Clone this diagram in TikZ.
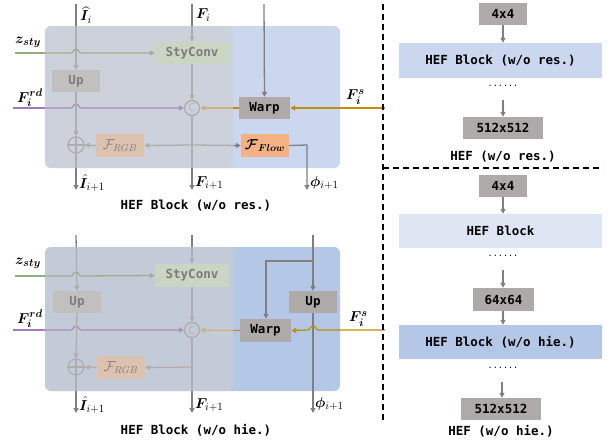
\documentclass[tikz,border=0pt]{standalone}
\usepackage{amsmath,bm}
\usepackage{fontspec}
\setmonofont{DejaVu Sans Mono}
\usetikzlibrary{arrows.meta}
\definecolor{lgray}{HTML}{7F7F7F}
\definecolor{bgray}{HTML}{AEAAAA}
\definecolor{blueA}{HTML}{CAD7EF}
\definecolor{blueB}{HTML}{B4C7E7}
\definecolor{blueC}{HTML}{DEE6F4}
\definecolor{ovgray}{HTML}{D0CECE}
\definecolor{sgreen}{HTML}{C5E0B4}
\definecolor{orng}{HTML}{F4B183}
\definecolor{zgreen}{HTML}{548235}
\definecolor{fpurp}{HTML}{7030A0}
\definecolor{gold}{HTML}{BF9000}
\newcommand\monof{\fontsize{12.5}{14}\selectfont\ttfamily\bfseries}
\newcommand\labf{\fontsize{15}{17}\selectfont}
\newcommand\boxmath{\fontsize{14}{16}\selectfont}
\begin{document}
\begin{tikzpicture}[x=1pt,y=-1pt,
  ln/.style={draw=lgray,line width=1.3pt},
  arr/.style={ln,-{Triangle[length=5pt,width=5pt]}},
  blk/.style={rectangle,inner sep=0pt,font=\monof},
  gbox/.style={blk,fill=bgray,minimum width=48pt,minimum height=22pt},
  cc/.style={circle,draw=lgray,line width=1.3pt,minimum size=15pt,inner sep=0pt,text=lgray,font=\sffamily\fontsize{11.5}{12}\selectfont},
  pc/.style={circle,draw=lgray,line width=1.3pt,minimum size=16pt,inner sep=0pt},
  lab/.style={anchor=west,inner sep=0pt,font=\labf},
  captxt/.style={font=\monof,inner sep=0pt},
  dotstxt/.style={font=\ttfamily\fontsize{8.5}{9}\selectfont,inner sep=0pt},
  dashln/.style={draw=black,line width=1.2pt,dash pattern=on 6pt off 4pt}]
\useasboundingbox (0,0) rectangle (609,440);
% ================= top block =================
\fill[blueA,rounded corners=6pt] (45,26) rectangle (340,168);
\node[blk,fill=sgreen,minimum width=74pt,minimum height=22pt] (sc1) at (192,53) {StyConv};
\node[gbox] (up1) at (76,81) {Up};
\node[cc] (c1) at (192,108) {C};
\node[gbox,minimum width=51pt] (wp1) at (264.5,108) {Warp};
\node[pc] (p1) at (76,145) {};
\draw[ln] (p1.north)--(p1.south) (p1.west)--(p1.east);
\node[blk,fill=orng,minimum width=48pt,minimum height=23pt,font=\boxmath] (rgb1) at (120,145.5) {$\mathcal{F}_{RGB}$};
\node[blk,fill=orng,minimum width=48pt,minimum height=23pt,font=\boxmath] (flw1) at (265,145.5) {$\bm{\mathcal{F}_{Flow}}$};
\coordinate (ti1) at (76,4);
\coordinate (tf1) at (192,4);
\coordinate (tw1) at (264,4);
\coordinate (z1) at (15,53);
\coordinate (r1) at (13,108);
\coordinate (s1) at (385,108);
\coordinate (j1) at (192,145);
\coordinate (k1) at (307,145);
\coordinate (oi1) at (76,190);
\coordinate (of1) at (192,190);
\coordinate (oph1) at (307,190);
\draw[arr] (ti1) -- (up1.north);
\draw[arr] (tf1) -- (sc1.north);
\draw[arr] (tw1) -- (wp1.north);
\draw[arr,draw=zgreen] (z1) -- (71.5,53) -- (74.5,49.5) -- (77.5,49.5) -- (80.5,53) -- (sc1.west);
\draw[arr,draw=fpurp] (r1) -- (71.5,108) -- (74.5,104.5) -- (77.5,104.5) -- (80.5,108) -- (c1.west);
\draw[arr] (sc1.south) -- (c1.north);
\draw[arr,draw=gold] (s1) -- (wp1.east);
\draw[arr,draw=gold] (wp1.west) -- (c1.east);
\draw[arr] (up1.south) -- (p1.north);
\draw[arr] (c1.south) -- (of1);
\draw[arr] (j1) -- (rgb1.east);
\draw[arr] (j1) -- (flw1.west);
\draw[arr] (rgb1.west) -- (p1.east);
\draw[arr] (p1.south) -- (oi1);
\draw[arr] (flw1.east) -- (k1) -- (oph1);
\fill[ovgray,fill opacity=0.6,rounded corners=6pt] (45,26) rectangle (233,168);
\node[lab] (lti1) at (80,15) {$\widehat{\bm I}_i$};
\node[lab] (ltf1) at (196,15) {$\bm F_i$};
\node[lab] (lz1) at (15,42) {$\bm{z_{sty}}$};
\node[lab] (lr1) at (17,98) {$\bm{F_i^{rd}}$};
\node[lab] (ls1) at (346,97) {$\bm{F_i^{s}}$};
\node[lab] (loi1) at (79,183) {$\hat{\bm I}_{i+1}$};
\node[lab] (lof1) at (195,183) {$\bm F_{i+1}$};
\node[lab] (loph1) at (310,183) {$\bm\phi_{i+1}$};
\node[captxt] (cap1) at (196,206) {HEF Block (w/o res.)};
% ================= bottom block =================
\fill[blueB,rounded corners=6pt] (45,247) rectangle (340,391);
\node[blk,fill=sgreen,minimum width=74pt,minimum height=23pt] (sc2) at (192,275.5) {StyConv};
\node[gbox] (up2) at (77,302) {Up};
\node[cc] (c2) at (192,330) {C};
\node[gbox,minimum width=51pt,minimum height=23pt] (wp2) at (265.5,330.5) {Warp};
\node[gbox] (upb2) at (313,302) {Up};
\node[pc] (p2) at (76,367) {};
\draw[ln] (p2.north)--(p2.south) (p2.west)--(p2.east);
\node[blk,fill=orng,minimum width=48pt,minimum height=23pt,font=\boxmath] (rgb2) at (121,367.5) {$\mathcal{F}_{RGB}$};
\coordinate (ti2) at (76,235);
\coordinate (tf2) at (192,235);
\coordinate (tw2) at (313,235);
\coordinate (br2) at (313,261);
\coordinate (bl2) at (266,261);
\coordinate (z2) at (15,276);
\coordinate (r2) at (13,330);
\coordinate (s2) at (385,330);
\coordinate (j2) at (192,367);
\coordinate (oi2) at (76,413);
\coordinate (of2) at (192,413);
\coordinate (oph2) at (313,413);
\draw[arr] (ti2) -- (up2.north);
\draw[arr] (tf2) -- (sc2.north);
\draw[arr] (tw2) -- (upb2.north);
\draw[arr] (br2) -- (bl2) -- (wp2.north -| bl2);
\draw[arr,draw=zgreen] (z2) -- (71.5,276) -- (74.5,272.5) -- (77.5,272.5) -- (80.5,276) -- (sc2.west);
\draw[arr,draw=fpurp] (r2) -- (71.5,330) -- (74.5,326.5) -- (77.5,326.5) -- (80.5,330) -- (c2.west);
\draw[arr] (sc2.south) -- (c2.north);
\draw[arr] (upb2.south) -- (oph2);
\draw[arr,draw=gold] (s2) -- (317.5,330) -- (314.5,326.5) -- (311.5,326.5) -- (308.5,330) -- (wp2.east);
\draw[arr,draw=gold] (wp2.west) -- (c2.east);
\draw[arr] (up2.south) -- (p2.north);
\draw[arr] (c2.south) -- (of2);
\draw[arr] (j2) -- (rgb2.east);
\draw[arr] (rgb2.west) -- (p2.east);
\draw[arr] (p2.south) -- (oi2);
\fill[ovgray,fill opacity=0.6,rounded corners=6pt] (45,247) rectangle (233,391);
\node[lab] (lz2) at (15,263) {$\bm{z_{sty}}$};
\node[lab] (lr2) at (17,319) {$\bm{F_i^{rd}}$};
\node[lab] (ls2) at (349,319) {$\bm{F_i^{s}}$};
\node[lab] (loi2) at (79,405) {$\hat{\bm I}_{i+1}$};
\node[lab] (lof2) at (195,405) {$\bm F_{i+1}$};
\node[lab] (loph2) at (315,404) {$\bm\phi_{i+1}$};
\node[captxt] (cap2) at (196,430) {HEF Block (w/o hie.)};
% ================= right panel =================
\coordinate (dv1) at (383,4);
\coordinate (dv2) at (383,423);
\coordinate (dh1) at (383,168);
\coordinate (dh2) at (603,168);
\draw[dashln] (dv1) -- (dv2);
\draw[dashln] (dh1) -- (dh2);
\node[gbox] (a44) at (503,14) {4x4};
\node[blk,fill=blueA,minimum width=203pt,minimum height=35pt] (ahef) at (500.5,60.5) {HEF Block (w/o res.)};
\node[dotstxt] (adots) at (503,86) {......};
\coordinate (aar) at (503,100);
\node[gbox,minimum width=80pt] (a512) at (503,128) {512x512};
\node[captxt] (acap) at (503,157) {HEF (w/o res.)};
\draw[arr] (a44.south) -- (a44.south |- ahef.north);
\draw[arr] (aar) -- (a512.north);
\node[gbox] (b44) at (503,186) {4x4};
\node[blk,fill=blueC,minimum width=203pt,minimum height=34pt] (bhef) at (500.5,231) {HEF Block};
\node[dotstxt] (bdots) at (503,256) {......};
\coordinate (bar) at (503,270);
\node[gbox,minimum width=61pt,minimum height=23pt] (b64) at (503.5,299.5) {64x64};
\node[blk,fill=blueB,minimum width=203pt,minimum height=34pt] (bhie) at (500.5,342) {HEF Block (w/o hie.)};
\node[dotstxt] (bdots2) at (503,368) {......};
\coordinate (bar2) at (502,382);
\node[gbox,minimum width=80pt] (b512) at (501,409) {512x512};
\node[captxt] (bcap) at (501,431) {HEF (w/o hie.)};
\draw[arr] (b44.south) -- (b44.south |- bhef.north);
\draw[arr] (bar) -- (bar |- b64.north);
\draw[arr] (b64.south -| bar) -- (bar |- bhie.north);
\draw[arr] (bar2) -- (bar2 |- b512.north);
\end{tikzpicture}
\end{document}
